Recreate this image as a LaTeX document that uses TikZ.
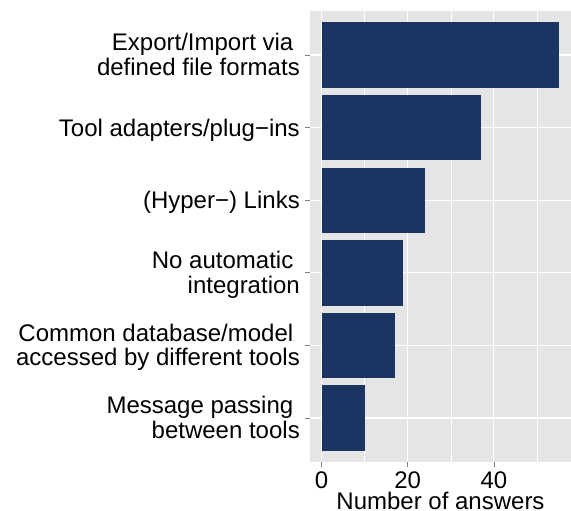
\documentclass[tikz,border=0pt]{standalone}
\usepackage{fontspec}
\setmainfont{Liberation Sans}
\definecolor{barblue}{HTML}{1C3461}
\definecolor{panelgrey}{HTML}{E5E5E5}
\definecolor{tickgrey}{HTML}{7F7F7F}
\tikzset{
  lab/.style={anchor=base east, inner sep=0pt, font=\fontsize{24}{24.5}\selectfont},
  ticklab/.style={anchor=base, inner sep=0pt, text depth=0pt, font=\fontsize{24}{24.5}\selectfont},
  bar/.style={fill=barblue},
  majorgrid/.style={white, line width=1.1pt},
  minorgrid/.style={white, line width=0.5pt},
  tickmark/.style={tickgrey, line width=0.8pt}
}
\newcommand{\xx}[1]{321.5+4.31*#1}
\begin{document}
\begin{tikzpicture}[x=1pt,y=-1pt]
\useasboundingbox (0,0) rectangle (571,511);
% panel
\fill[panelgrey] (310,11) rectangle (571,461.6);
\foreach \v in {10,30,50} \draw[minorgrid] ({\xx{\v}},11) -- ({\xx{\v}},461.6);
\foreach \v in {0,20,40} \draw[majorgrid] ({\xx{\v}},11) -- ({\xx{\v}},461.6);
\foreach \c in {55,127.6,200.2,272.8,345.4,418} \draw[majorgrid] (310,\c) -- (571,\c);
% bars
\foreach \c/\v in {55/55,127.6/37,200.2/24,272.8/19,345.4/17,418/10}
  \fill[bar] ({\xx{0}},\c-32.7) rectangle ({\xx{\v}},\c+32.7);
% y ticks
\foreach \c in {55,127.6,200.2,272.8,345.4,418} \draw[tickmark] (305,\c) -- (310,\c);
% x ticks
\foreach \v in {0,20,40} \draw[tickmark] ({\xx{\v}},461.6) -- ({\xx{\v}},466.7);
% y labels
\node[lab] (l1) at (300,50.7) {\begin{tabular}[t]{@{}r@{}}Export/Import via\kern6.5pt\\defined file formats\end{tabular}};
\node[lab] (l2) at (300,136.2) {Tool adapters/plug−ins};
\node[lab] (l3) at (300,208.8) {(Hyper−) Links};
\node[lab] (l4) at (300,268.5) {\begin{tabular}[t]{@{}r@{}}No automatic\kern6.5pt\\integration\end{tabular}};
\node[lab] (l5) at (300,341.1) {\begin{tabular}[t]{@{}r@{}}Common database/model\kern6.5pt\\accessed by different tools\end{tabular}};
\node[lab] (l6) at (300,413.7) {\begin{tabular}[t]{@{}r@{}}Message passing\kern6.5pt\\between tools\end{tabular}};
% x labels
\node[ticklab] (t0) at ({\xx{0}},488.3) {0};
\node[ticklab] (t20) at ({\xx{20}},488.3) {20};
\node[ticklab] (t40) at ({\xx{40}},488.3) {40};
\node[ticklab] (xt) at (440.5,509.5) {Number of answers};
\end{tikzpicture}
\end{document}
